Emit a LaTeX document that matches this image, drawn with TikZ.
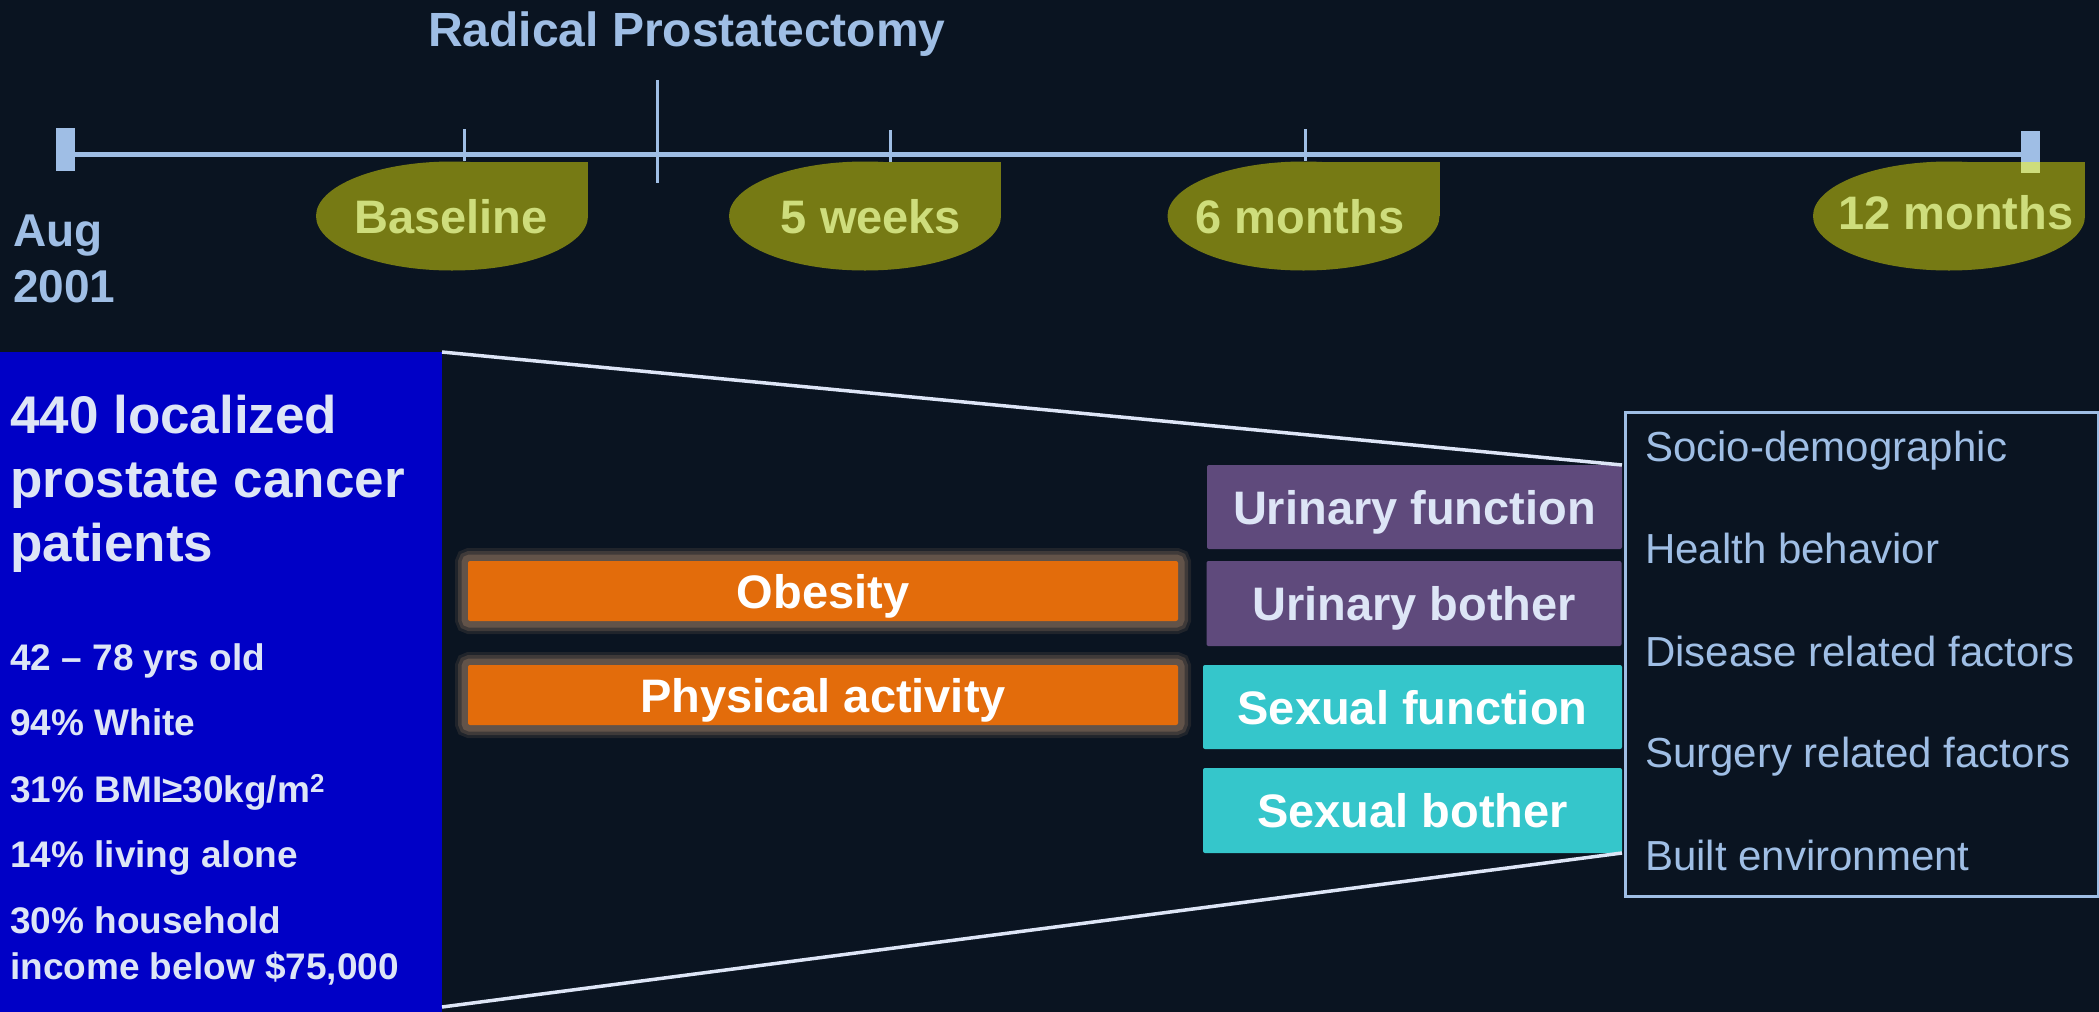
\documentclass[tikz,border=0pt]{standalone}
\usepackage{fontspec}
\setmainfont{Liberation Sans}
\usetikzlibrary{shapes.geometric}

\definecolor{sfondo}{HTML}{0A1421}
\definecolor{linea}{HTML}{9FBEE5}
\definecolor{oliva}{HTML}{767A14}
\definecolor{olivachiaro}{HTML}{CEDD7C}
\definecolor{pannello}{HTML}{0000C6}
\definecolor{chiaro}{HTML}{DDE5F6}
\definecolor{viola}{HTML}{5F4A7C}
\definecolor{ciano}{HTML}{35C6CB}
\definecolor{arancio}{HTML}{E36C0B}
\definecolor{alone}{HTML}{7A6454}

\tikzset{
  blob/.style={ellipse, fill=oliva, minimum width=272pt, minimum height=109pt, inner sep=0pt, outer sep=0pt},
  blobtext/.style={anchor=base, inner sep=0pt, text=olivachiaro, font=\fontsize{47}{56}\selectfont\bfseries},
  tacca/.style={draw=linea, line width=3pt},
  barra/.style={fill=linea, minimum width=19pt, inner sep=0pt, outer sep=0pt},
  riga/.style={anchor=base west, inner sep=0pt, align=left},
  box/.style={inner sep=0pt, outer sep=0pt, rounded corners=2pt, text height=34pt, text depth=0pt,
    font=\fontsize{47}{56}\selectfont\bfseries},
  viobox/.style={box, fill=viola, text=chiaro, minimum width=415pt, minimum height=84pt},
  cianobox/.style={box, fill=ciano, text=white, minimum width=419pt, minimum height=85pt},
  aranbox/.style={box, fill=arancio, text=white, minimum width=710pt, minimum height=60pt,
    preaction={draw=alone, line width=26pt, opacity=.2, rounded corners=13pt},
    preaction={draw=alone, line width=20pt, opacity=.35, rounded corners=10pt},
    preaction={draw=alone, line width=13pt, opacity=.6, rounded corners=6pt}},
  fattore/.style={riga, text=linea, font=\fontsize{42}{50}\selectfont},
  fascio/.style={draw=chiaro, line width=3.5pt}
}

\begin{document}
\begin{tikzpicture}[x=1pt, y=-1pt]
  % Sfondo
  \fill[sfondo] (0,0) rectangle (2099,1012);
  \useasboundingbox (0,0) rectangle (2099,1012);

  % Linea del tempo
  \node[barra, minimum height=43pt] (a0) at (65.5,149.5) {};
  \node[barra, minimum height=42pt] (a1) at (2030.5,152) {};
  \coordinate (l0) at (75,154.5);
  \coordinate (l1) at (2021,154.5);
  \draw[linea, line width=5pt] (l0) -- (l1);
  \draw[tacca] (464,129) -- (464,161);
  \draw[tacca] (657,80) -- (657,183);
  \draw[tacca] (890,130) -- (890,162);
  \draw[tacca] (1305,129) -- (1305,161);

  \node[riga, text=linea, font=\fontsize{48}{56}\selectfont\bfseries] (rp) at (428,46) {Radical Prostatectomy};
  \node[riga, text=linea, font=\fontsize{46}{56}\selectfont\bfseries] (d0) at (13,302) {Aug\\2001};

  % Misure
  \node[blob] (m1) at (452,216) {};
  \node[blob] (m2) at (865,216) {};
  \node[blob] (m3) at (1303.5,216) {};
  \node[blob] (m4) at (1949,216) {};
  \foreach \m in {m1,m2,m3,m4}
    \fill[oliva] (\m.center) rectangle (\m.east |- \m.north);
  \fill[olivachiaro] (a1.south west) rectangle (a1.east |- m4.north);

  \node[blobtext] (m1t) at (451,233) {Baseline};
  \node[blobtext] (m2t) at (871,233) {5 weeks};
  \node[blobtext] (m3t) at (1300,233) {6 months};
  \node[blobtext] (m4t) at (1956,229) {12 months};

  % Pazienti
  \node[fill=pannello, anchor=north west, inner sep=0pt, outer sep=0pt,
        minimum width=442pt, minimum height=660pt] (p) at (0,352) {};
  \node[riga, text=chiaro, font=\fontsize{53}{64}\selectfont\bfseries] (p0) at (10,561)
    {440 localized\\prostate cancer\\patients};
  \node[riga, text=chiaro, font=\fontsize{37}{45.5}\selectfont\bfseries] (p1) at (10,670) {42 \textendash{} 78 yrs old};
  \node[riga, text=chiaro, font=\fontsize{37}{45.5}\selectfont\bfseries] (p2) at (10,735) {94\% White};
  \node[riga, text=chiaro, font=\fontsize{37}{45.5}\selectfont\bfseries] (p3) at (10,802) {31\% BMI≥30kg/m\textsuperscript{2}};
  \node[riga, text=chiaro, font=\fontsize{37}{45.5}\selectfont\bfseries] (p4) at (10,867) {14\% living alone};
  \node[riga, text=chiaro, font=\fontsize{37}{45.5}\selectfont\bfseries] (p5) at (10,979)
    {30\% household\\income below \$75,000};

  % Esposizioni
  \node[aranbox] (o1) at (823,591) {Obesity};
  \node[aranbox] (o2) at (823,695) {Physical activity};

  % Esiti
  \node[viobox] (u1) at (1414.5,507) {Urinary function};
  \node[viobox, minimum height=85pt] (u2) at (1414,603.5) {Urinary bother};
  \node[cianobox, minimum height=84pt] (s1) at (1412.5,707) {Sexual function};
  \node[cianobox] (s2) at (1412.5,810.5) {Sexual bother};

  % Covariate
  \node[draw=linea, line width=3pt, anchor=north west, inner sep=0pt,
        minimum width=473pt, minimum height=484pt] (f) at (1624,411) {};
  \node[fattore] (f1) at (1645,461) {Socio-demographic};
  \node[fattore] (f2) at (1645,563) {Health behavior};
  \node[fattore] (f3) at (1645,666) {Disease related factors};
  \node[fattore] (f4) at (1645,767) {Surgery related factors};
  \node[fattore] (f5) at (1645,870) {Built environment};

  % Fascio
  \draw[fascio] (p.north east) -- (u1.north east);
  \draw[fascio] ([yshift=5pt]p.south east) -- (s2.south east);
\end{tikzpicture}
\end{document}
